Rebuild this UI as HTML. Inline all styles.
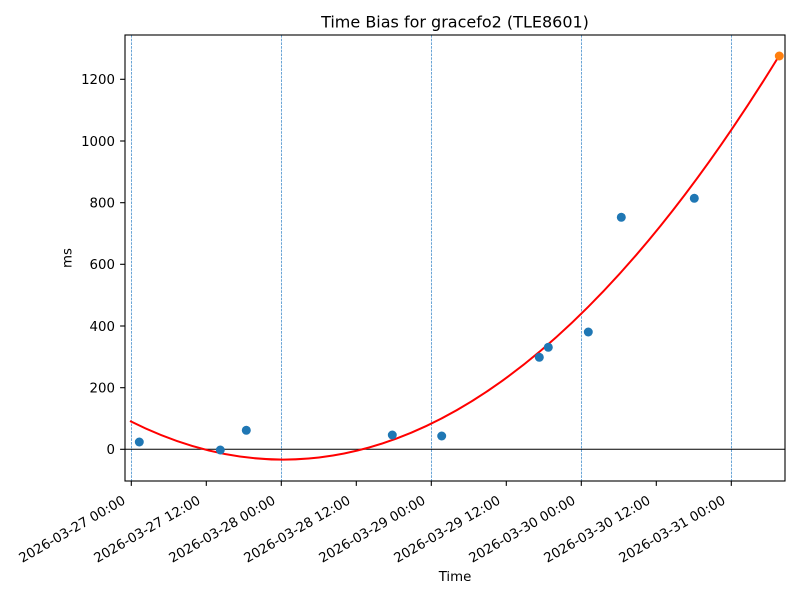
<!DOCTYPE html>
<html><head><meta charset="utf-8"><style>
html,body{margin:0;padding:0;background:#fff;}
svg{display:block;}
text{font-family:"DejaVu Sans","Liberation Sans",sans-serif;fill:#000;}
</style></head><body>
<svg width="800" height="600" viewBox="0 0 800 600" xmlns="http://www.w3.org/2000/svg">
<rect x="0" y="0" width="800" height="600" fill="#fff"/>
<!-- vertical dashed day lines -->
<g stroke="#6aa5d6" stroke-width="1" stroke-dasharray="2.6 1.1">
<line x1="131.5" y1="35" x2="131.5" y2="481"/>
<line x1="281.5" y1="35" x2="281.5" y2="481"/>
<line x1="431.5" y1="35" x2="431.5" y2="481"/>
<line x1="581.5" y1="35" x2="581.5" y2="481"/>
<line x1="731.5" y1="35" x2="731.5" y2="481"/>
</g>
<!-- zero line -->
<line x1="125" y1="449.3" x2="785" y2="449.3" stroke="#000" stroke-width="1"/>
<!-- fit curve -->
<path d="M130,421 Q454.5,584.4 779,56" fill="none" stroke="#ff0000" stroke-width="2"/>
<!-- points -->
<g fill="#1f77b4">
<circle cx="139.3" cy="442" r="4.5"/>
<circle cx="220.3" cy="450" r="4.5"/>
<circle cx="246.3" cy="430.3" r="4.5"/>
<circle cx="392.3" cy="435" r="4.5"/>
<circle cx="441.7" cy="436" r="4.5"/>
<circle cx="539.3" cy="357.3" r="4.5"/>
<circle cx="548.3" cy="347.3" r="4.5"/>
<circle cx="588.3" cy="332" r="4.5"/>
<circle cx="621.3" cy="217.3" r="4.5"/>
<circle cx="694.3" cy="198.3" r="4.5"/>
</g>
<circle cx="779.3" cy="56" r="4.5" fill="#ff7f0e"/>
<!-- axes frame -->
<rect x="125" y="35" width="660" height="446" fill="none" stroke="#000" stroke-width="1.1"/>
<!-- y ticks -->
<g stroke="#000" stroke-width="1.1">
<line x1="120.1" y1="449.3" x2="125" y2="449.3"/>
<line x1="120.1" y1="387.7" x2="125" y2="387.7"/>
<line x1="120.1" y1="326" x2="125" y2="326"/>
<line x1="120.1" y1="264.3" x2="125" y2="264.3"/>
<line x1="120.1" y1="202.7" x2="125" y2="202.7"/>
<line x1="120.1" y1="141" x2="125" y2="141"/>
<line x1="120.1" y1="79.3" x2="125" y2="79.3"/>
</g>
<g font-size="13.33" text-anchor="end">
<text x="115" y="454.2">0</text>
<text x="115" y="392.6">200</text>
<text x="115" y="330.9">400</text>
<text x="115" y="269.2">600</text>
<text x="115" y="207.6">800</text>
<text x="115" y="145.9">1000</text>
<text x="115" y="84.2">1200</text>
</g>
<!-- x ticks -->
<g stroke="#000" stroke-width="1.1">
<line x1="131.3" y1="481" x2="131.3" y2="485.9"/>
<line x1="206.3" y1="481" x2="206.3" y2="485.9"/>
<line x1="281.3" y1="481" x2="281.3" y2="485.9"/>
<line x1="356.3" y1="481" x2="356.3" y2="485.9"/>
<line x1="431.3" y1="481" x2="431.3" y2="485.9"/>
<line x1="506.3" y1="481" x2="506.3" y2="485.9"/>
<line x1="581.3" y1="481" x2="581.3" y2="485.9"/>
<line x1="656.3" y1="481" x2="656.3" y2="485.9"/>
<line x1="731.3" y1="481" x2="731.3" y2="485.9"/>
</g>
<g font-size="13.33" text-anchor="end">
<text transform="translate(126.3,503) rotate(-30)">2026-03-27 00:00</text>
<text transform="translate(201.3,503) rotate(-30)">2026-03-27 12:00</text>
<text transform="translate(276.3,503) rotate(-30)">2026-03-28 00:00</text>
<text transform="translate(351.3,503) rotate(-30)">2026-03-28 12:00</text>
<text transform="translate(426.3,503) rotate(-30)">2026-03-29 00:00</text>
<text transform="translate(501.3,503) rotate(-30)">2026-03-29 12:00</text>
<text transform="translate(576.3,503) rotate(-30)">2026-03-30 00:00</text>
<text transform="translate(651.3,503) rotate(-30)">2026-03-30 12:00</text>
<text transform="translate(726.3,503) rotate(-30)">2026-03-31 00:00</text>
</g>
<!-- labels -->
<text x="455" y="27.5" font-size="16" text-anchor="middle">Time Bias for gracefo2 (TLE8601)</text>
<text x="455" y="581" font-size="13.33" text-anchor="middle">Time</text>
<text transform="translate(71.5,258) rotate(-90)" font-size="13.33" text-anchor="middle">ms</text>
</svg>
</body></html>
